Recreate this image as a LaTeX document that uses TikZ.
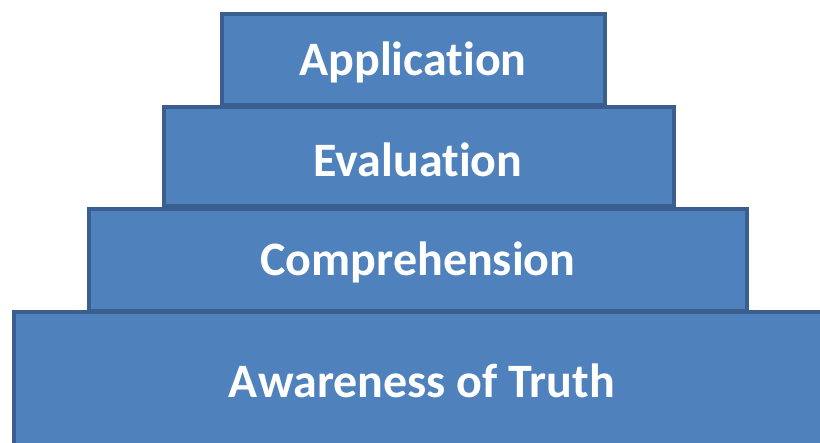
\documentclass[tikz,border=0pt]{standalone}
\usepackage{fontspec}
\setmainfont[Ligatures=NoCommon]{Carlito}
\usetikzlibrary{positioning}

\definecolor{stepfill}{HTML}{4F81BD}
\definecolor{stepline}{HTML}{3A5F8E}

\begin{document}
\begin{tikzpicture}[x=1pt, y=-1pt,
  font=\bfseries\fontsize{48}{52}\selectfont,
  level/.style={draw=stepline, fill=stepfill, line width=4pt, text=white,
    inner sep=0pt, outer sep=0pt}]
  \clip (0,0) rectangle (820,443);
  % bottom level first, upper ones drawn over it
  \node[level, minimum width=826pt, minimum height=158pt] (truth) at (427,391) {};
  \node[level, minimum width=658pt, minimum height=102pt] (compr) at (418,260) {};
  \node[level, minimum width=510pt, minimum height=99pt] (eval) at (419,156.5) {};
  \node[level, minimum width=383pt, minimum height=91pt] (appl) at (413.5,59.5) {};
  \node[text=white] (truthtext) at (422,381) {Awareness of Truth};
  \node[text=white] (comprtext) at (418,262) {Comprehension};
  \node[text=white] (evaltext) at (418,160) {Evaluation};
  \node[text=white] (appltext) at (413,62) {Application};
\end{tikzpicture}
\end{document}
